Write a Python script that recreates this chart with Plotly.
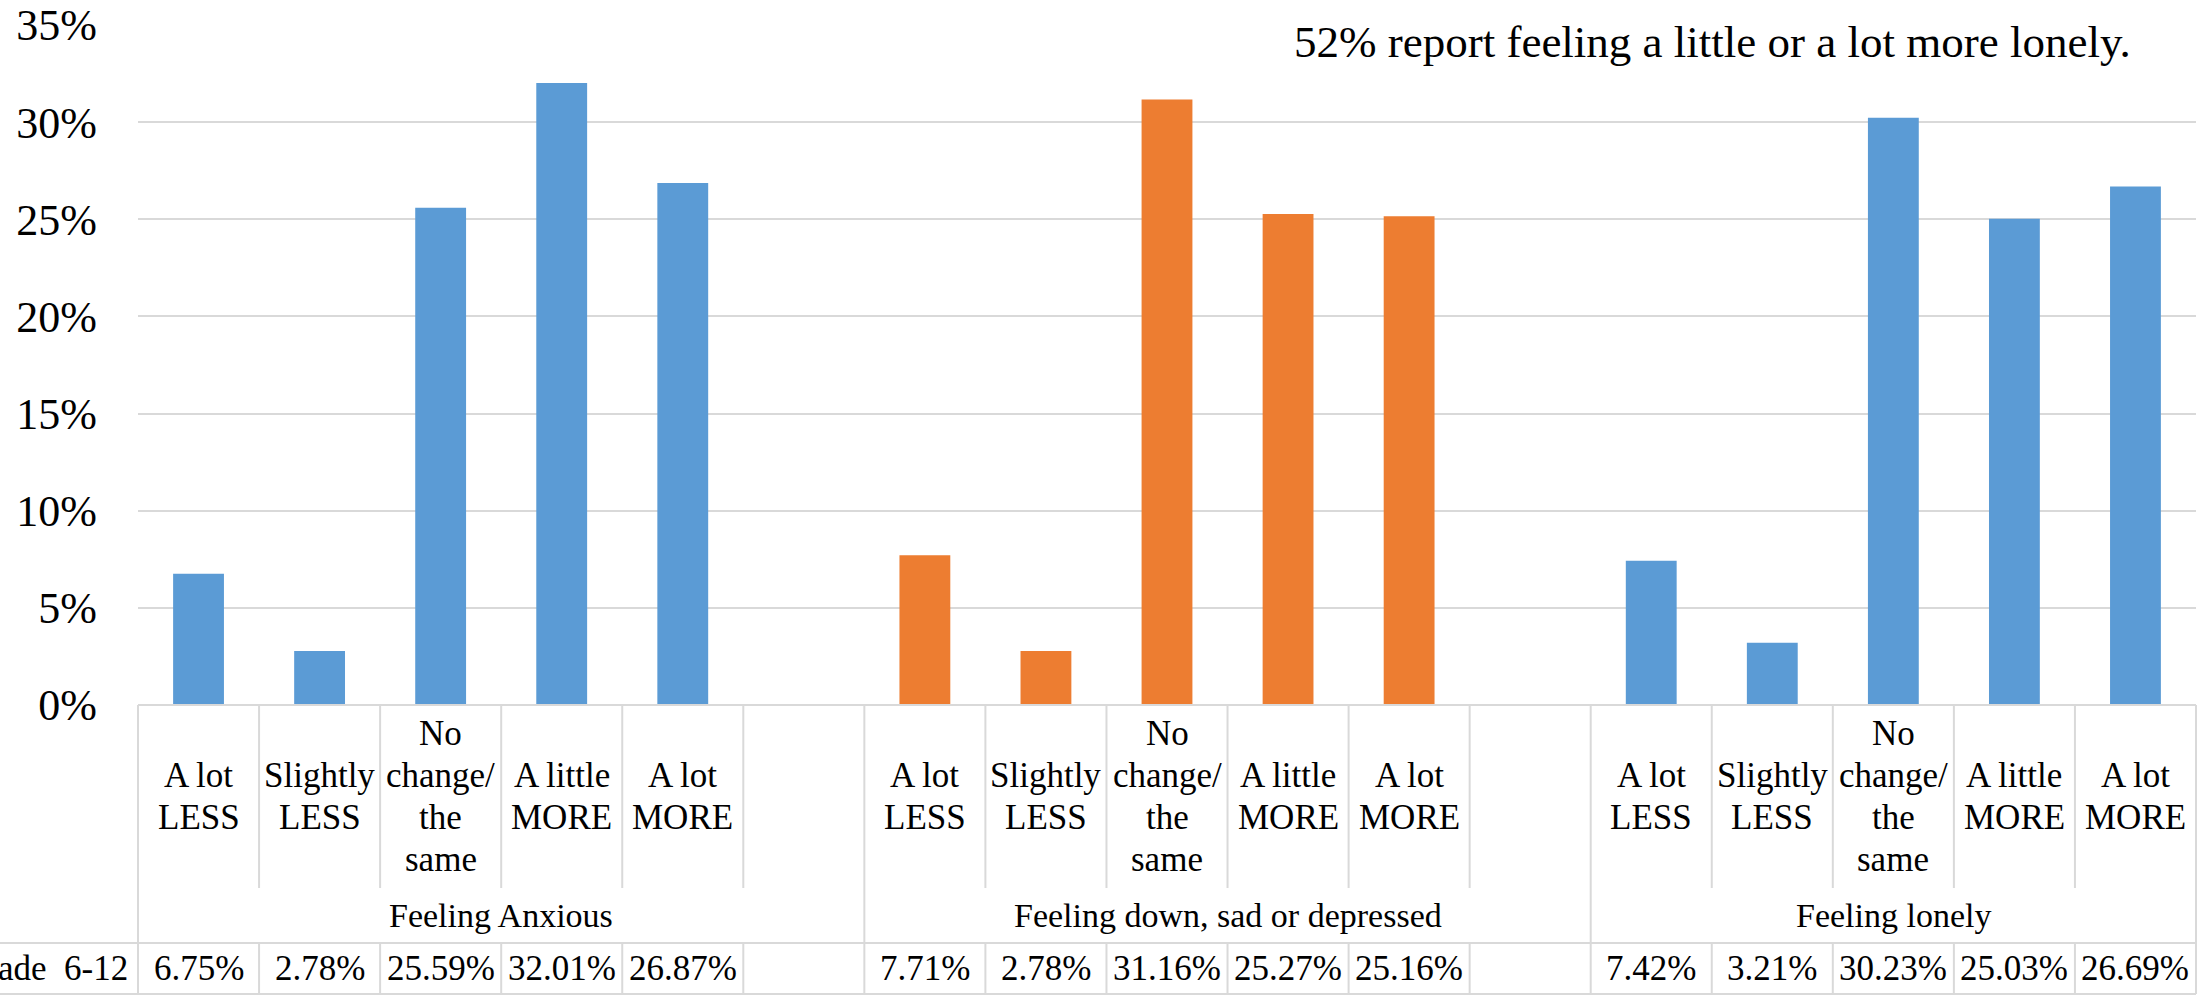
import plotly.graph_objects as go

# ---------------- data ----------------
groups = ["Feeling Anxious", "Feeling down, sad or depressed", "Feeling lonely"]
categories = [["A lot", "LESS"], ["Slightly", "LESS"], ["No", "change/", "the", "same"],
              ["A little", "MORE"], ["A lot", "MORE"]]
anxious = [0.0675, 0.0278, 0.2559, 0.3201, 0.2687]
depressed = [0.0771, 0.0278, 0.3116, 0.2527, 0.2516]
lonely = [0.0742, 0.0321, 0.3023, 0.2503, 0.2669]
series_values = [anxious, depressed, lonely]
group_colors = ["#5B9BD5", "#ED7D31", "#5B9BD5"]
series_name = "Grade\u00a0\u00a06-12"
y_ticks = [0, 0.05, 0.10, 0.15, 0.20, 0.25, 0.30, 0.35]
note_text = "52% report feeling a little or a lot more lonely."

# ---------------- geometry ----------------
FIG_W, FIG_H = 2207, 996
L, T = 138, 25
PLOT_H = 680
CAT_PX = 121.05
N_SLOTS = 17          # 6 + 6 + 5 category slots
PLOT_W = N_SLOTS * CAT_PX
R = FIG_W - L - PLOT_W
B = FIG_H - T - PLOT_H
XMIN, XMAX = -0.5, N_SLOTS - 0.5
AXIS_Y = T + PLOT_H     # pixel y of 0%
CAT_ROW_BOTTOM = 888
GROUP_ROW_BOTTOM = 943
TABLE_BOTTOM = 994

FONT = "'Liberation Serif', Tinos, 'Times New Roman', 'DejaVu Serif', serif"
GRID = "#D9D9D9"


def yp(pix):
    return (AXIS_Y - pix) / PLOT_H


def xp(pix):
    return (pix - L) / PLOT_W


def slot_x(g, i):
    return g * 6 + i


fig = go.Figure()
for g, vals in enumerate(series_values):
    fig.add_trace(go.Bar(
        x=[slot_x(g, i) for i in range(len(vals))],
        y=vals,
        width=0.42,
        marker=dict(color=group_colors[g], line=dict(width=0)),
        showlegend=False,
        name=groups[g],
    ))

shapes = []
line_style = dict(color=GRID, width=2)
# horizontal table lines
shapes.append(dict(type="line", xref="paper", yref="paper", x0=0, x1=1, y0=0, y1=0, line=line_style))
shapes.append(dict(type="line", xref="paper", yref="paper", x0=xp(0), x1=1,
                   y0=yp(GROUP_ROW_BOTTOM), y1=yp(GROUP_ROW_BOTTOM), line=line_style))
shapes.append(dict(type="line", xref="paper", yref="paper", x0=xp(0), x1=1,
                   y0=yp(TABLE_BOTTOM), y1=yp(TABLE_BOTTOM), line=line_style))
# vertical table lines
for k in range(N_SLOTS + 1):
    xb = (k - 0.5 - XMIN) / (XMAX - XMIN)
    if k % 6 == 0 or k == N_SLOTS:
        shapes.append(dict(type="line", xref="paper", yref="paper", x0=xb, x1=xb,
                           y0=0, y1=yp(TABLE_BOTTOM), line=line_style))
    else:
        shapes.append(dict(type="line", xref="paper", yref="paper", x0=xb, x1=xb,
                           y0=0, y1=yp(CAT_ROW_BOTTOM), line=line_style))
        shapes.append(dict(type="line", xref="paper", yref="paper", x0=xb, x1=xb,
                           y0=yp(GROUP_ROW_BOTTOM), y1=yp(TABLE_BOTTOM), line=line_style))

annotations = []
cat_center = (AXIS_Y + CAT_ROW_BOTTOM) / 2
LINE_SP = 42.3
for g, vals in enumerate(series_values):
    for i, lines in enumerate(categories):
        n = len(lines)
        for j, txt in enumerate(lines):
            ypix = cat_center + (j - (n - 1) / 2) * LINE_SP
            annotations.append(dict(x=slot_x(g, i), xref="x", y=yp(ypix), yref="paper",
                                    text=txt, showarrow=False, xanchor="center", yanchor="middle",
                                    font=dict(family=FONT, size=35, color="#000000")))
        annotations.append(dict(x=slot_x(g, i), xref="x", y=yp((GROUP_ROW_BOTTOM + TABLE_BOTTOM) / 2),
                                yref="paper", text="{:.2%}".format(vals[i]), showarrow=False,
                                xanchor="center", yanchor="middle",
                                font=dict(family=FONT, size=35, color="#000000")))
    ncols = 6 if g < 2 else 5
    annotations.append(dict(x=g * 6 + (ncols - 1) / 2, xref="x", y=yp((CAT_ROW_BOTTOM + GROUP_ROW_BOTTOM) / 2),
                            yref="paper", text=groups[g], showarrow=False, xanchor="center",
                            yanchor="middle", font=dict(family=FONT, size=34, color="#000000")))

annotations.append(dict(x=xp(130), xref="paper", y=yp((GROUP_ROW_BOTTOM + TABLE_BOTTOM) / 2), yref="paper",
                        text=series_name, showarrow=False, xanchor="right", yanchor="middle",
                        font=dict(family=FONT, size=35, color="#000000")))
annotations.append(dict(x=xp(1712), xref="paper", y=yp(42), yref="paper",
                        text=note_text, showarrow=False, xanchor="center", yanchor="middle",
                        font=dict(family=FONT, size=45, color="#000000")))

fig.update_layout(
    width=FIG_W, height=FIG_H,
    margin=dict(l=L, r=R, t=T, b=B, pad=0),
    paper_bgcolor="white", plot_bgcolor="white",
    bargap=0.58,
    xaxis=dict(range=[XMIN, XMAX], showticklabels=False, showgrid=False, zeroline=False,
               showline=False, ticks=""),
    yaxis=dict(range=[0, 0.35], tickvals=y_ticks, tickformat=".0%", showgrid=True,
               gridcolor=GRID, gridwidth=2, zeroline=False, showline=False, ticks="",
               ticklabelstandoff=40, automargin=False,
               tickfont=dict(family=FONT, size=44, color="#000000")),
    shapes=shapes,
    annotations=annotations,
    font=dict(family=FONT),
)

fig.write_html(
    "out.html",
    config={"displayModeBar": False},
    post_script="document.body.style.margin='0';document.body.style.padding='0';"
                "document.documentElement.style.overflow='hidden';",
)
